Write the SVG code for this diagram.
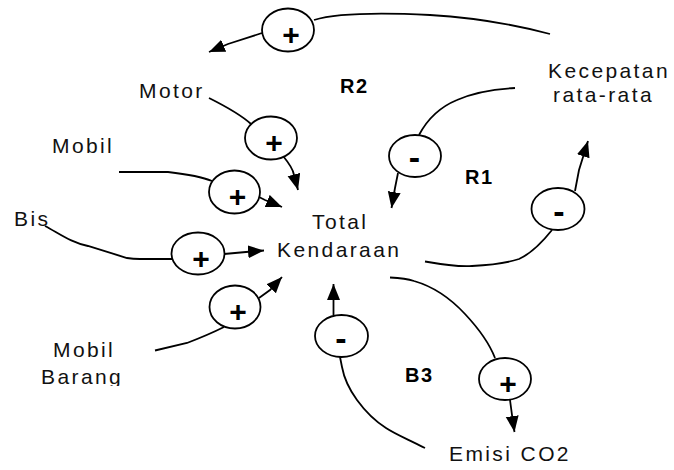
<svg xmlns="http://www.w3.org/2000/svg" width="674" height="470" viewBox="0 0 674 470">
  <style>
    .lbl { font-family: "Liberation Sans", Arial, sans-serif; font-size: 21px; letter-spacing: 2.4px; fill: #111; }
    .loop { font-family: "Liberation Sans", Arial, sans-serif; font-size: 20px; font-weight: bold; letter-spacing: 1.5px; fill: #000; }
    .link { fill: none; stroke: #000; stroke-width: 1.8; }
    .arr { fill: none; stroke: #000; stroke-width: 1.8; marker-end: url(#head); }
    .pol { fill: #fff; stroke: #000; stroke-width: 1.8; }
    .plus { font-family: "Liberation Sans", Arial, sans-serif; font-size: 30px; font-weight: bold; text-anchor: middle; fill: #000; }
    .minus { font-family: "Liberation Sans", Arial, sans-serif; font-size: 34px; font-weight: bold; text-anchor: middle; fill: #000; }
  </style>
  <defs>
    <marker id="head" markerUnits="userSpaceOnUse" markerWidth="18" markerHeight="14" refX="16" refY="6.5" orient="auto">
      <path d="M0,0 L16,6.5 L0,13 z" fill="#000"/>
    </marker>
    <clipPath id="cutBarang">
      <rect x="0" y="330" width="200" height="56"/>
    </clipPath>
  </defs>

  <!-- connectors with polarity markers -->
  <g id="connectors">
    <!-- Kecepatan rata-rata -> Motor (+) -->
    <g id="link-kec-motor">
      <path class="link" d="M550,34 C520,26 480,18 430,15 C390,13 340,12 314,20"/>
      <path class="arr" d="M262,33 L228,44 L209,52"/>
      <ellipse class="pol" cx="288" cy="30" rx="26" ry="21.5"/>
      <text class="plus" x="291" y="45">+</text>
    </g>
    <!-- Motor -> Total Kendaraan (+) -->
    <g id="link-motor-total">
      <path class="link" d="M209,98 C225,106 240,114 251,124"/>
      <path class="arr" d="M283,156 C288,162 293,168 294,175 L298,190"/>
      <ellipse class="pol" cx="271" cy="138" rx="26" ry="21.5"/>
      <text class="plus" x="274" y="153">+</text>
    </g>
    <!-- Mobil -> Total Kendaraan (+) -->
    <g id="link-mobil-total">
      <path class="link" d="M119,172 L168,172 C185,174 200,176 212,181"/>
      <path class="arr" d="M259,197 L265,200 L282,207"/>
      <ellipse class="pol" cx="234.5" cy="192" rx="25.5" ry="21.5"/>
      <text class="plus" x="237.5" y="207">+</text>
    </g>
    <!-- Bis -> Total Kendaraan (+) -->
    <g id="link-bis-total">
      <path class="link" d="M45,226 C60,234 72,243 88,246 L127,258 C133,259 138,259 140,259 L172,259"/>
      <path class="arr" d="M224,254 L246,252 L264,250.5"/>
      <ellipse class="pol" cx="198" cy="253.5" rx="26.5" ry="21"/>
      <text class="plus" x="201" y="269">+</text>
    </g>
    <!-- Mobil Barang -> Total Kendaraan (+) -->
    <g id="link-barang-total">
      <path class="link" d="M155,350.5 L187,343 C200,338 212,333 224,327"/>
      <path class="arr" d="M259,298 L270,290 L282,277"/>
      <ellipse class="pol" cx="235" cy="307" rx="25.5" ry="21.5"/>
      <text class="plus" x="238" y="322">+</text>
    </g>
    <!-- Kecepatan rata-rata -> Total Kendaraan (-) -->
    <g id="link-kec-total">
      <path class="link" d="M515,88 C495,89 475,92 457,100 C440,107 428,118 419,135"/>
      <path class="arr" d="M398,173 L395,188 L391.5,208"/>
      <ellipse class="pol" cx="415" cy="156" rx="26" ry="21"/>
      <text class="minus" x="414.5" y="169">-</text>
    </g>
    <!-- Total Kendaraan -> Kecepatan rata-rata (-) -->
    <g id="link-total-kec">
      <path class="link" d="M425,261.5 C445,265 460,267 472,266 C495,265 510,262 519,259 C530,254 540,245 552,230"/>
      <path class="arr" d="M575,191 L579,170 L588,141"/>
      <ellipse class="pol" cx="558" cy="209" rx="26.5" ry="21"/>
      <text class="minus" x="559" y="222.5">-</text>
    </g>
    <!-- Total Kendaraan -> Emisi CO2 (+) -->
    <g id="link-total-emisi">
      <path class="link" d="M390,277.5 C400,278 408,279 414,281 C435,287 452,300 465,314 C480,330 490,345 495,358"/>
      <path class="arr" d="M510,400 L512,415 L514.5,432"/>
      <ellipse class="pol" cx="505" cy="379" rx="26" ry="21"/>
      <text class="plus" x="508" y="394">+</text>
    </g>
    <!-- Emisi CO2 -> Total Kendaraan (-) -->
    <g id="link-emisi-total">
      <path class="link" d="M425,448 C405,438 395,434 386,428 C375,421 365,411 357,400 C349,389 344,378 342,367 L340,357"/>
      <path class="arr" d="M333.5,315 L333.5,300 L333.5,284"/>
      <ellipse class="pol" cx="341.5" cy="336" rx="26.5" ry="21"/>
      <text class="minus" x="341" y="349.5">-</text>
    </g>
  </g>

  <!-- variables -->
  <g id="motor"><text class="lbl" x="139" y="98">Motor</text></g>
  <g id="mobil"><text class="lbl" x="52" y="153">Mobil</text></g>
  <g id="bis"><text class="lbl" x="14" y="226">Bis</text></g>
  <g id="mobil-barang" clip-path="url(#cutBarang)">
    <text class="lbl" x="53" y="356.5">Mobil</text>
    <text class="lbl" x="41" y="383.5">Barang</text>
  </g>
  <g id="total-kendaraan">
    <text class="lbl" x="312" y="228.5">Total</text>
    <text class="lbl" x="277" y="256.5">Kendaraan</text>
  </g>
  <g id="kecepatan">
    <text class="lbl" x="548" y="77.5">Kecepatan</text>
    <text class="lbl" x="553" y="101.5">rata-rata</text>
  </g>
  <g id="emisi"><text class="lbl" x="449" y="461" letter-spacing="1.6">Emisi CO2</text></g>

  <!-- loop identifiers -->
  <g id="loops">
    <text class="loop" x="340" y="93">R2</text>
    <text class="loop" x="465" y="184">R1</text>
    <text class="loop" x="405" y="381.5">B3</text>
  </g>
</svg>
